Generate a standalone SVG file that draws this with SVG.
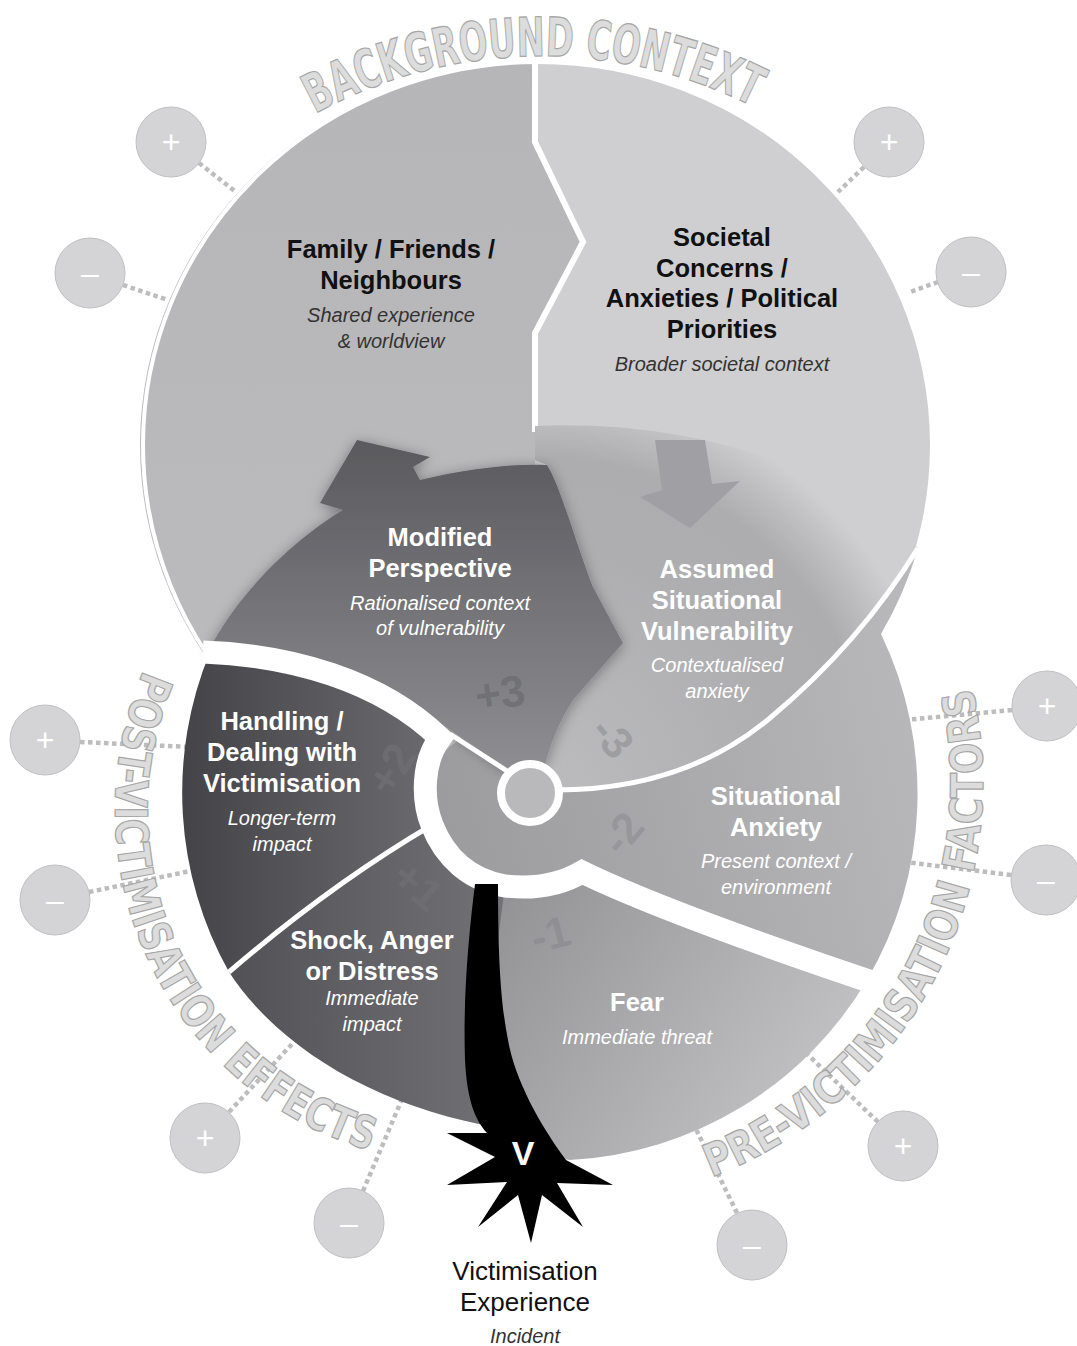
<svg xmlns="http://www.w3.org/2000/svg" width="1077" height="1346" viewBox="0 0 1077 1346">
<defs>
<style>
.ttl{font-family:"Liberation Sans",Arial,sans-serif;font-weight:bold;font-size:25.5px;text-anchor:middle}
.sub{font-family:"Liberation Sans",Arial,sans-serif;font-style:italic;font-size:20px;text-anchor:middle}
.blk{fill:#111}
.blks{fill:#333}
.wht{fill:#fff}
.num{font-family:"Liberation Sans",Arial,sans-serif;font-weight:bold;font-size:44px;text-anchor:middle}
.side{font-family:"DejaVu Sans Condensed","DejaVu Sans",sans-serif;font-weight:bold;font-stretch:condensed;fill:#dcdcdc;stroke:#a6a6a6;stroke-width:1.2}
.dot{fill:none;stroke:#bdbdbd;stroke-width:4.5;stroke-dasharray:4.5 3.5}
.pm{fill:#d4d4d6;stroke:#c0c0c2;stroke-width:1}
.pmt{font-family:"Liberation Sans",Arial,sans-serif;font-size:32px;fill:#fff;text-anchor:middle}
.wl{fill:none;stroke:#fff}
</style>
<linearGradient id="gHand" x1="0" y1="0" x2="1" y2="0"><stop offset="0" stop-color="#444448"/><stop offset="1" stop-color="#6c6c70"/></linearGradient>
<linearGradient id="gShock" x1="0" y1="0" x2="1" y2="0"><stop offset="0" stop-color="#525256"/><stop offset="1" stop-color="#727276"/></linearGradient>
<linearGradient id="gMod" x1="0" y1="0" x2="0" y2="1"><stop offset="0" stop-color="#5a5a5e"/><stop offset="1" stop-color="#8e8e92"/></linearGradient>
<radialGradient id="gAss" gradientUnits="userSpaceOnUse" cx="540" cy="790" r="450"><stop offset="0" stop-color="#bcbcbf"/><stop offset="0.55" stop-color="#aeaeb1"/><stop offset="0.74" stop-color="#adadb0"/><stop offset="0.82" stop-color="#bdbdc0"/><stop offset="0.9" stop-color="#cfcfd1"/><stop offset="1" stop-color="#cfcfd1"/></radialGradient>
<linearGradient id="gAnx" gradientUnits="userSpaceOnUse" x1="440" y1="800" x2="920" y2="700"><stop offset="0" stop-color="#9c9c9f"/><stop offset="1" stop-color="#b8b8bb"/></linearGradient>
<linearGradient id="gFear" gradientUnits="userSpaceOnUse" x1="500" y1="900" x2="820" y2="1120"><stop offset="0" stop-color="#939396"/><stop offset="1" stop-color="#c4c4c7"/></linearGradient>
<linearGradient id="gFam" x1="0" y1="0" x2="0" y2="1"><stop offset="0" stop-color="#b6b6b9"/><stop offset="1" stop-color="#bcbcbf"/></linearGradient>
<filter id="sh" x="-15%" y="-15%" width="130%" height="130%"><feDropShadow dx="0" dy="2" stdDeviation="7" flood-color="#000" flood-opacity="0.35"/></filter>
</defs>
<rect width="1077" height="1346" fill="#fff"/>

<g id="connectors">
<path class="dot" d="M199,163 L236,192"/>
<path class="dot" d="M123,285 L168,300"/>
<path class="dot" d="M864,167 L838,192"/>
<path class="dot" d="M938,282 L910,292"/>
<path class="dot" d="M1012,710 L905,720"/>
<path class="dot" d="M1011,875 L905,862"/>
<path class="dot" d="M80,742 L190,747"/>
<path class="dot" d="M89,892 L195,870"/>
<path class="dot" d="M229,1112 L305,1030"/>
<path class="dot" d="M363,1191 L405,1092"/>
<path class="dot" d="M878,1122 L805,1052"/>
<path class="dot" d="M737,1213 L694,1125"/>
</g>

<g id="background-context">
<path id="family" d="M535,62 L535,142 L583,242 L535,333 L535,828 A395 383 0 0 1 535,62 Z" fill="url(#gFam)"/>
<path id="societal" d="M535,62 L535,142 L583,242 L535,333 L535,828 A395 383 0 1 0 535,62 Z" fill="#cfcfd1"/>
<ellipse cx="538" cy="445" rx="395" ry="383" fill="none" stroke="#fff" stroke-width="4"/>
<path class="wl" stroke-width="6" d="M535,60 L535,142 L583,242 L535,333 L535,432"/>
</g>

<g id="spiral">
<path id="assumed" d="M545,765 C550,745 560,720 573,700 L623,643 L593,587 C575,540 560,485 547,465 L535,460 L535,426 C690,418 850,470 918,548 C880,610 830,668 770,718 C720,760 650,790 560,790 Z" fill="url(#gAss)"/>
<path id="assumed-arrow" d="M655,440 L662,490 L640,497 L690,528 L740,481 L712,484 L705,440 Z" fill="#a0a0a4"/>
<path id="anxiety" d="M918,548 C880,610 830,668 770,718 C720,760 650,790 560,790 L507,770 L462,738 C422,762 422,800 432,825 C445,858 470,880 505,886 C540,890 565,882 582,872 C650,905 770,948 867,980 A368 368 0 0 0 881,634 A395 383 0 0 0 918,548 Z" fill="url(#gAnx)"/>
<path id="fear" d="M485,886 C530,892 560,885 582,872 C650,905 770,948 867,980 A368 368 0 0 1 570,1160 L500,1150 L490,1000 Z" fill="url(#gFear)"/>
<path id="shock" d="M229,972 Q330,885 432,825 C445,858 470,880 505,886 L490,1000 L500,1128 C380,1108 280,1050 229,972 Z" fill="url(#gShock)"/>
<path id="handling" d="M210,652 C290,655 380,680 440,738 C422,762 422,800 432,825 Q330,885 229,972 A368 368 0 0 1 210,652 Z" fill="url(#gHand)"/>
<path id="modified" filter="url(#sh)" d="M210,648 C235,600 285,545 343,510 L320,503 L357,440 L430,457 L413,467 L420,480 C460,470 510,463 547,465 C560,485 575,540 593,587 L623,643 L573,700 C560,720 550,745 545,765 L507,770 L462,738 C380,680 290,655 210,652 Z" fill="url(#gMod)"/>
<path class="wl" stroke-width="23" d="M203,652 C290,655 380,680 440,738 C422,762 422,800 432,825 C445,858 470,880 505,886 C540,890 565,882 582,872 C650,905 770,948 890,988"/>
<path class="wl" stroke-width="5" d="M450,734 L507,771"/>
<path class="wl" stroke-width="5" d="M555,790 C650,790 720,760 770,718 C830,668 880,610 918,548"/>
<path class="wl" stroke-width="5" d="M229,972 Q330,885 432,825"/>
<circle cx="530" cy="793" r="29" fill="#b9b9bc" stroke="#fff" stroke-width="8"/>
</g>

<g id="victimisation">
<path d="M475,884 C468,940 463,1000 465,1060 C467,1100 475,1120 487,1133 L447,1133 L495,1157 L447,1185 L507,1182 L478,1227 L518,1195 L531,1243 L542,1195 L583,1227 L557,1183 L613,1185 L566,1160 C540,1125 515,1080 508,1040 C500,1000 498,950 498,884 Z" fill="#000"/>
<text x="523" y="1165" font-family="Liberation Sans,Arial,sans-serif" font-weight="bold" font-size="34" fill="#fff" text-anchor="middle">V</text>
<text x="525" y="1280" font-family="Liberation Sans,Arial,sans-serif" font-size="26" fill="#111" text-anchor="middle">Victimisation</text>
<text x="525" y="1311" font-family="Liberation Sans,Arial,sans-serif" font-size="26" fill="#111" text-anchor="middle">Experience</text>
<text class="sub blks" x="525" y="1343">Incident</text>
</g>

<g id="numbers" fill="#6f6f73" fill-opacity="0.85">
<text class="num" transform="translate(502,708) rotate(-8)">+3</text>
<text class="num" transform="translate(404,777) rotate(-58)">+2</text>
<text class="num" transform="translate(408,897) rotate(40)">+1</text>
<text class="num" fill="#8e8e91" transform="translate(554,949) rotate(-14)">-1</text>
<text class="num" fill="#959598" transform="translate(634,843) rotate(-50)">-2</text>
<text class="num" fill="#9a9a9d" transform="translate(601,747) rotate(50)">-3</text>
</g>

<g id="labels">
<text class="ttl blk" x="391" y="258">Family / Friends /</text>
<text class="ttl blk" x="391" y="289">Neighbours</text>
<text class="sub blks" x="391" y="322">Shared experience</text>
<text class="sub blks" x="391" y="348">&amp; worldview</text>
<text class="ttl blk" x="722" y="246">Societal</text>
<text class="ttl blk" x="722" y="277">Concerns /</text>
<text class="ttl blk" x="722" y="307">Anxieties / Political</text>
<text class="ttl blk" x="722" y="338">Priorities</text>
<text class="sub blks" x="722" y="371">Broader societal context</text>
<text class="ttl wht" x="440" y="546">Modified</text>
<text class="ttl wht" x="440" y="577">Perspective</text>
<text class="sub wht" x="440" y="610">Rationalised context</text>
<text class="sub wht" x="440" y="635">of vulnerability</text>
<text class="ttl wht" x="717" y="578">Assumed</text>
<text class="ttl wht" x="717" y="609">Situational</text>
<text class="ttl wht" x="717" y="640">Vulnerability</text>
<text class="sub wht" x="717" y="672">Contextualised</text>
<text class="sub wht" x="717" y="698">anxiety</text>
<text class="ttl wht" x="776" y="805">Situational</text>
<text class="ttl wht" x="776" y="836">Anxiety</text>
<text class="sub wht" x="776" y="868">Present context /</text>
<text class="sub wht" x="776" y="894">environment</text>
<text class="ttl wht" x="637" y="1011">Fear</text>
<text class="sub wht" x="637" y="1044">Immediate threat</text>
<text class="ttl wht" x="282" y="730">Handling /</text>
<text class="ttl wht" x="282" y="761">Dealing with</text>
<text class="ttl wht" x="282" y="792">Victimisation</text>
<text class="sub wht" x="282" y="825">Longer-term</text>
<text class="sub wht" x="282" y="851">impact</text>
<text class="ttl wht" x="372" y="949">Shock, Anger</text>
<text class="ttl wht" x="372" y="980">or Distress</text>
<text class="sub wht" x="372" y="1005">Immediate</text>
<text class="sub wht" x="372" y="1031">impact</text>
</g>

<g id="plus-minus">
<circle class="pm" cx="171" cy="142" r="35"/><text class="pmt" x="171" y="153">+</text>
<circle class="pm" cx="90" cy="273" r="35"/><text class="pmt" x="90" y="284">–</text>
<circle class="pm" cx="889" cy="142" r="35"/><text class="pmt" x="889" y="153">+</text>
<circle class="pm" cx="971" cy="272" r="35"/><text class="pmt" x="971" y="283">–</text>
<circle class="pm" cx="1047" cy="706" r="35"/><text class="pmt" x="1047" y="717">+</text>
<circle class="pm" cx="1046" cy="880" r="35"/><text class="pmt" x="1046" y="891">–</text>
<circle class="pm" cx="45" cy="740" r="35"/><text class="pmt" x="45" y="751">+</text>
<circle class="pm" cx="55" cy="900" r="35"/><text class="pmt" x="55" y="911">–</text>
<circle class="pm" cx="205" cy="1138" r="35"/><text class="pmt" x="205" y="1149">+</text>
<circle class="pm" cx="349" cy="1223" r="35"/><text class="pmt" x="349" y="1234">–</text>
<circle class="pm" cx="903" cy="1146" r="35"/><text class="pmt" x="903" y="1157">+</text>
<circle class="pm" cx="752" cy="1245" r="35"/><text class="pmt" x="752" y="1256">–</text>
</g>

<g id="side-titles">
<path id="arcTop" d="M238.9,166 A470 470 0 0 1 843.1,166" fill="none"/>
<path id="arcLeft" d="M143.7,670.2 A355 355 0 0 0 371.6,1151.1" fill="none"/>
<path id="arcRight" d="M711.5,1177.2 A422 422 0 0 0 971,683.1" fill="none"/>
<text class="side" font-size="54"><textPath href="#arcTop" startOffset="48.8%" text-anchor="middle" textLength="455" lengthAdjust="spacingAndGlyphs">BACKGROUND CONTEXT</textPath></text>
<text class="side" font-size="45"><textPath href="#arcLeft" textLength="600" lengthAdjust="spacingAndGlyphs">POST-VICTIMISATION EFFECTS</textPath></text>
<text class="side" font-size="45"><textPath href="#arcRight" textLength="605" lengthAdjust="spacingAndGlyphs">PRE-VICTIMISATION FACTORS</textPath></text>
</g>
</svg>
